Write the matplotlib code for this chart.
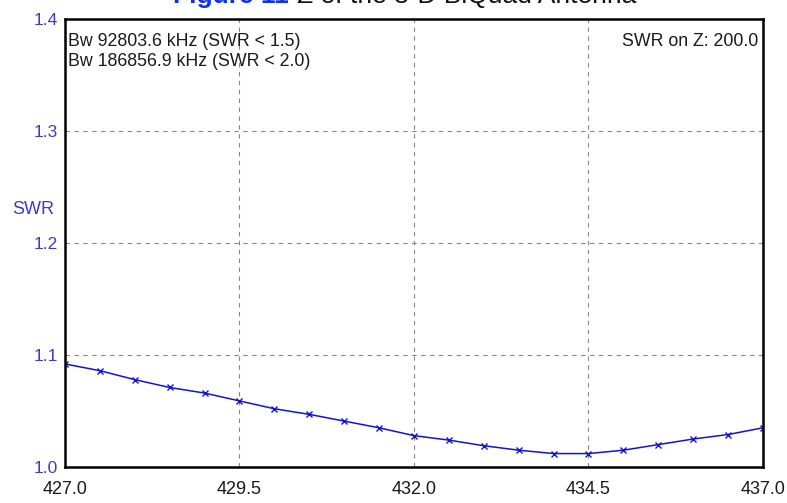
import numpy as np
import matplotlib.pyplot as plt

plt.rcParams["font.family"] = ["Liberation Sans", "DejaVu Sans"]

# SWR sweep across the band (MHz)
freq_mhz = [427.0, 427.5, 428.0, 428.5, 429.0, 429.5, 430.0, 430.5, 431.0, 431.5,
            432.0, 432.5, 433.0, 433.5, 434.0, 434.5, 435.0, 435.5, 436.0, 436.5, 437.0]
swr = [1.092, 1.086, 1.078, 1.071, 1.066, 1.059, 1.052, 1.047, 1.041, 1.035,
       1.028, 1.024, 1.019, 1.015, 1.012, 1.012, 1.015, 1.020, 1.025, 1.029, 1.035]
x_ticks = [427.0, 429.5, 432.0, 434.5, 437.0]
y_ticks = [1.0, 1.1, 1.2, 1.3, 1.4]
bw_lines = ["Bw 92803.6 kHz (SWR < 1.5)", "Bw 186856.9 kHz (SWR < 2.0)"]
z_label = "SWR on Z: 200.0"

fig = plt.figure(figsize=(7.87, 5.03), dpi=100)
ax = fig.add_axes([65 / 787, 36 / 503, 698 / 787, 448 / 503])

ax.plot(freq_mhz, swr, color='#1414c8', lw=1.1, marker='x', ms=5, mew=1.0)

ax.set_xlim(427.0, 437.0)
ax.set_ylim(1.0, 1.4)
ax.set_xticks(x_ticks)
ax.set_xticklabels(['%.1f' % v for v in x_ticks], fontsize=13, color='#1a1a1a')
ax.set_yticks(y_ticks)
ax.set_yticklabels(['%.1f' % v for v in y_ticks], fontsize=12.5, color='#3c3cc4')
ax.tick_params(axis='x', length=0, pad=10)
ax.tick_params(axis='y', length=0, pad=5)

ax.grid(True, color='#888888', ls=(0, (4, 4)), lw=0.8)
for sp in ax.spines.values():
    sp.set_linewidth(1.8)
    sp.set_color('black')

fig.text(12 / 787, 1 - 210 / 503, 'SWR', fontsize=13, color='#3c3cc4', va='center')

ax.text(0.005, 0.968, bw_lines[0], transform=ax.transAxes, fontsize=12.8,
        color='#1a1a1a', va='top', ha='left')
ax.text(0.005, 0.924, bw_lines[1], transform=ax.transAxes, fontsize=12.8,
        color='#1a1a1a', va='top', ha='left')
ax.text(0.993, 0.968, z_label, transform=ax.transAxes, fontsize=12.8,
        color='#1a1a1a', va='top', ha='right')

# caption line, mostly above the top edge
fig.text(173 / 787, 1 - 2.5 / 503, 'Figure 11', fontsize=19, fontweight='bold',
         color='#1030f0', ha='left', va='baseline')
fig.text(297 / 787, 1 - 2.5 / 503, 'Z of the 3-D BiQuad Antenna', fontsize=19,
         color='#111111', ha='left', va='baseline')

fig.savefig('out.png', dpi=100)
